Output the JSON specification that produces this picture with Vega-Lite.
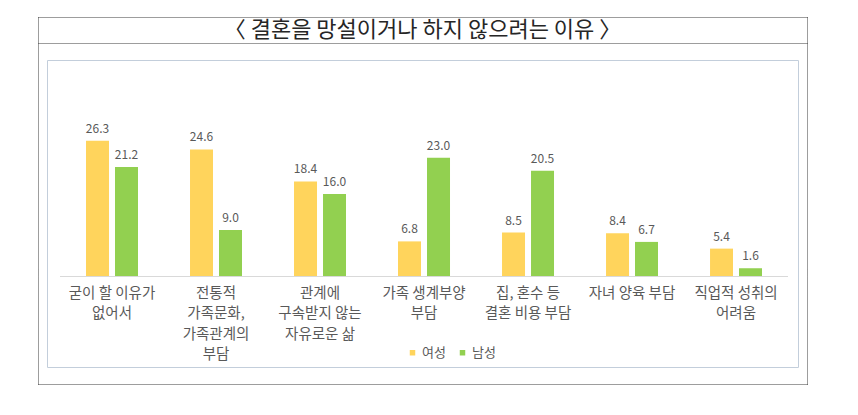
{
  "$schema": "https://vega.github.io/schema/vega-lite/v6.json",
  "description": "결혼을 망설이거나 하지 않으려는 이유 (성별, %)",
  "width": 751,
  "height": 307,
  "autosize": {"type": "none"},
  "padding": {"left": 47, "top": 60, "right": 60, "bottom": 48},
  "background": "white",
  "config": {
    "font": "Noto Sans CJK KR",
    "view": {"stroke": "#C3CEDB", "strokeWidth": 1}
  },
  "datasets": {
    "reasons": [
      {"category": "굳이 할 이유가|없어서", "sex": "여성", "value": 26.3},
      {"category": "굳이 할 이유가|없어서", "sex": "남성", "value": 21.2},
      {"category": "전통적|가족문화,|가족관계의|부담", "sex": "여성", "value": 24.6},
      {"category": "전통적|가족문화,|가족관계의|부담", "sex": "남성", "value": 9.0},
      {"category": "관계에|구속받지 않는|자유로운 삶", "sex": "여성", "value": 18.4},
      {"category": "관계에|구속받지 않는|자유로운 삶", "sex": "남성", "value": 16.0},
      {"category": "가족 생계부양|부담", "sex": "여성", "value": 6.8},
      {"category": "가족 생계부양|부담", "sex": "남성", "value": 23.0},
      {"category": "집, 혼수 등|결혼 비용 부담", "sex": "여성", "value": 8.5},
      {"category": "집, 혼수 등|결혼 비용 부담", "sex": "남성", "value": 20.5},
      {"category": "자녀 양육 부담", "sex": "여성", "value": 8.4},
      {"category": "자녀 양육 부담", "sex": "남성", "value": 6.7},
      {"category": "직업적 성취의|어려움", "sex": "여성", "value": 5.4},
      {"category": "직업적 성취의|어려움", "sex": "남성", "value": 1.6}
    ],
    "baseline": [
      {"from": "굳이 할 이유가|없어서", "to": "직업적 성취의|어려움"}
    ],
    "heading": [
      {"text": "〈 결혼을 망설이거나 하지 않으려는 이유 〉"}
    ]
  },
  "resolve": {"axis": {"x": "independent", "y": "independent"}},
  "layer": [
    {
      "data": {"name": "reasons"},
      "mark": {"type": "bar"},
      "encoding": {
        "x": {
          "field": "category",
          "type": "nominal",
          "scale": {
            "domain": [
              "굳이 할 이유가|없어서",
              "전통적|가족문화,|가족관계의|부담",
              "관계에|구속받지 않는|자유로운 삶",
              "가족 생계부양|부담",
              "집, 혼수 등|결혼 비용 부담",
              "자녀 양육 부담",
              "직업적 성취의|어려움"
            ],
            "range": [-9, 760],
            "paddingInner": 0,
            "paddingOuter": 0.197,
            "align": 0.537
          },
          "axis": {
            "orient": "bottom",
            "offset": -90.5,
            "title": null,
            "domain": false,
            "ticks": false,
            "tickSize": 0,
            "grid": false,
            "labelExpr": "split(datum.label, '|')",
            "labelAngle": 0,
            "labelAlign": "center",
            "labelBaseline": "top",
            "labelPadding": 10,
            "labelFontSize": 14.5,
            "labelLineHeight": 20.3,
            "labelColor": "#595959",
            "labelLimit": 300,
            "labelOverlap": false,
            "labelBound": false
          }
        },
        "xOffset": {
          "field": "sex",
          "type": "nominal",
          "scale": {"domain": ["여성", "남성"], "paddingInner": 0.207, "paddingOuter": 0.897}
        },
        "y": {
          "field": "value",
          "type": "quantitative",
          "scale": {"domain": [-20.82, 50.26], "range": [324, -43], "nice": false, "zero": false},
          "axis": {
            "orient": "left",
            "offset": 9,
            "title": null,
            "domain": true,
            "domainColor": "#3A3A3A",
            "domainDash": [1, 1],
            "ticks": false,
            "labels": false,
            "grid": true,
            "gridColor": "#3A3A3A",
            "gridDash": [1, 1],
            "values": [-20.82, 45.23, 50.26]
          }
        },
        "y2": {"datum": 0},
        "color": {
          "field": "sex",
          "type": "nominal",
          "scale": {"domain": ["여성", "남성"], "range": ["#FFD45C", "#92D050"]},
          "legend": {
            "orient": "none",
            "legendX": 359,
            "legendY": 286,
            "direction": "horizontal",
            "title": null,
            "symbolType": "square",
            "symbolSize": 30,
            "labelFontSize": 13,
            "labelColor": "#595959",
            "labelOffset": 3,
            "columnPadding": 10,
            "padding": 0
          }
        }
      }
    },
    {
      "data": {"name": "reasons"},
      "mark": {"type": "text", "baseline": "bottom", "dy": -5, "fontSize": 12, "color": "#595959"},
      "encoding": {
        "x": {"field": "category", "type": "nominal", "axis": null},
        "xOffset": {"field": "sex", "type": "nominal"},
        "y": {
          "field": "value",
          "type": "quantitative",
          "axis": {
            "orient": "right",
            "offset": 9,
            "title": null,
            "domain": true,
            "domainColor": "#3A3A3A",
            "domainDash": [1, 1],
            "ticks": false,
            "labels": false,
            "grid": false
          }
        },
        "text": {"field": "value", "type": "quantitative", "format": ".1f"}
      }
    },
    {
      "data": {"name": "baseline"},
      "mark": {"type": "rule", "color": "#D9D9D9", "strokeWidth": 1},
      "encoding": {
        "x": {"field": "from", "type": "nominal", "bandPosition": 0, "axis": null},
        "x2": {"field": "to", "bandPosition": 1},
        "y": {"datum": 0, "type": "quantitative", "axis": null}
      }
    },
    {
      "data": {"name": "heading"},
      "mark": {"type": "text", "fontSize": 22, "color": "#262626", "baseline": "middle", "align": "center"},
      "encoding": {
        "y": {"datum": 47.74, "type": "quantitative", "axis": null},
        "text": {"field": "text", "type": "nominal"}
      }
    }
  ]
}
